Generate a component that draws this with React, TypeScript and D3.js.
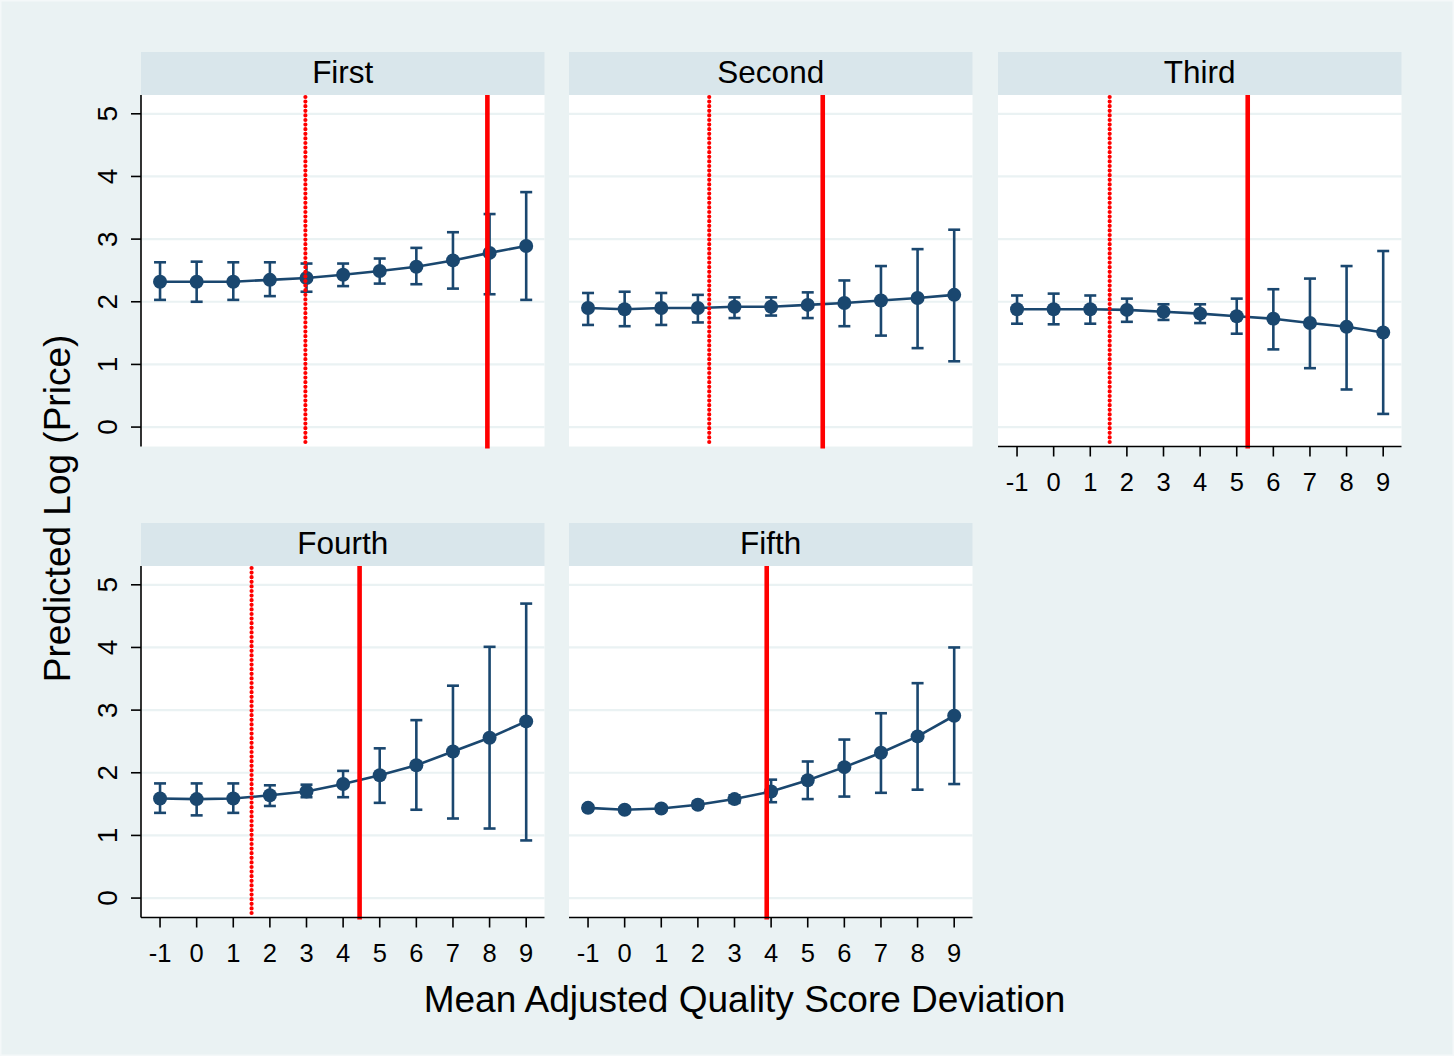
import React from "react";
import * as d3 from "d3";

const xValues = [-1, 0, 1, 2, 3, 4, 5, 6, 7, 8, 9];
const yTicks = [0, 1, 2, 3, 4, 5];
const panelNames = ["First", "Second", "Third", "Fourth", "Fifth"];

const firstEst = [2.32, 2.32, 2.32, 2.35, 2.38, 2.43, 2.49, 2.56, 2.66, 2.78, 2.89];
const firstLo = [2.03, 2.0, 2.03, 2.09, 2.16, 2.25, 2.29, 2.28, 2.21, 2.12, 2.03];
const firstHi = [2.63, 2.64, 2.63, 2.63, 2.61, 2.61, 2.69, 2.86, 3.11, 3.4, 3.75];

const secondEst = [1.9, 1.88, 1.9, 1.9, 1.92, 1.92, 1.95, 1.98, 2.02, 2.06, 2.11];
const secondLo = [1.63, 1.61, 1.63, 1.67, 1.74, 1.78, 1.74, 1.61, 1.46, 1.26, 1.05];
const secondHi = [2.14, 2.16, 2.14, 2.11, 2.07, 2.07, 2.15, 2.34, 2.57, 2.84, 3.15];

const thirdEst = [1.88, 1.88, 1.88, 1.87, 1.84, 1.81, 1.77, 1.73, 1.66, 1.6, 1.51];
const thirdLo = [1.65, 1.64, 1.65, 1.68, 1.71, 1.66, 1.49, 1.24, 0.94, 0.6, 0.21];
const thirdHi = [2.1, 2.13, 2.1, 2.05, 1.96, 1.96, 2.05, 2.2, 2.37, 2.57, 2.81];

const fourthEst = [1.59, 1.58, 1.59, 1.64, 1.7, 1.82, 1.96, 2.12, 2.34, 2.56, 2.82];
const fourthLo = [1.36, 1.32, 1.36, 1.47, 1.61, 1.61, 1.52, 1.41, 1.27, 1.11, 0.92];
const fourthHi = [1.83, 1.83, 1.83, 1.8, 1.81, 2.03, 2.39, 2.84, 3.39, 4.01, 4.7];

const fifthEst = [1.44, 1.41, 1.43, 1.49, 1.58, 1.7, 1.88, 2.09, 2.32, 2.58, 2.91];
const fifthLo = [1.4, 1.37, 1.39, 1.44, 1.52, 1.53, 1.58, 1.62, 1.68, 1.73, 1.82];
const fifthHi = [1.48, 1.45, 1.47, 1.54, 1.64, 1.89, 2.18, 2.53, 2.95, 3.43, 4.0];

const dottedLines = [2.97, 2.31, 1.53, 1.5, null];
const solidLines = [7.94, 5.41, 5.3, 4.45, 3.88];

const estimates = [firstEst, secondEst, thirdEst, fourthEst, fifthEst];
const lows = [firstLo, secondLo, thirdLo, fourthLo, fifthLo];
const highs = [firstHi, secondHi, thirdHi, fourthHi, fifthHi];

const W = 1454;
const H = 1056;
const colX = [141, 569, 998];
const panelW = 403.5;
const stripTops = [52, 523];
const stripH = 43;
const plotH = 351.5;

const BG = "#eaf2f3";
const STRIP = "#d9e6eb";
const NAVY = "#1a476f";
const RED = "#ff0000";
const FONT = "'Liberation Sans', Arial, Helvetica, sans-serif";

type PanelProps = { idx: number };

function Panel({ idx }: PanelProps) {
  const row = idx < 3 ? 0 : 1;
  const col = idx < 3 ? idx : idx - 3;
  const x0 = colX[col];
  const stripTop = stripTops[row];
  const plotTop = stripTop + stripH;
  const plotBottom = plotTop + plotH;

  const x = d3.scaleLinear().domain([-1.52, 9.5]).range([x0, x0 + panelW]);
  const y = d3.scaleLinear().domain([-0.31, 5.3]).range([plotBottom, plotTop]);

  const est = estimates[idx];
  const lo = lows[idx];
  const hi = highs[idx];
  const pts: [number, number][] = xValues.map((v, i) => [v, est[i]]);
  const line = d3
    .line<[number, number]>()
    .x((d) => x(d[0]))
    .y((d) => y(d[1]));

  const showY = col === 0;
  const showX = idx >= 2;

  const dotted = dottedLines[idx];
  const solid = solidLines[idx];

  return (
    <g>
      <rect x={x0} y={stripTop} width={panelW} height={stripH} fill={STRIP} />
      <text
        x={x0 + panelW / 2}
        y={stripTop + 31}
        textAnchor="middle"
        fontFamily={FONT}
        fontSize={31.5}
        fill="#000"
      >
        {panelNames[idx]}
      </text>
      <rect x={x0} y={plotTop} width={panelW} height={plotH} fill="#fff" />
      {yTicks.map((t) => (
        <line
          key={"g" + t}
          x1={x0}
          x2={x0 + panelW}
          y1={y(t)}
          y2={y(t)}
          stroke={BG}
          strokeWidth={2.2}
        />
      ))}
      <path d={line(pts) || ""} fill="none" stroke={NAVY} strokeWidth={2.6} />
      {xValues.map((v, i) => (
        <g key={"e" + v} stroke={NAVY} strokeWidth={2.6}>
          <line x1={x(v)} x2={x(v)} y1={y(lo[i])} y2={y(hi[i])} />
          <line x1={x(v) - 6} x2={x(v) + 6} y1={y(lo[i])} y2={y(lo[i])} />
          <line x1={x(v) - 6} x2={x(v) + 6} y1={y(hi[i])} y2={y(hi[i])} />
        </g>
      ))}
      {xValues.map((v, i) => (
        <circle key={"c" + v} cx={x(v)} cy={y(est[i])} r={7} fill={NAVY} />
      ))}
      {dotted !== null && (
        <line
          x1={x(dotted)}
          x2={x(dotted)}
          y1={plotTop + 2}
          y2={plotBottom - 1}
          stroke={RED}
          strokeWidth={4.2}
          strokeDasharray="0 4.6"
          strokeLinecap="round"
        />
      )}
      <line
        x1={x(solid)}
        x2={x(solid)}
        y1={plotTop}
        y2={plotBottom + 2}
        stroke={RED}
        strokeWidth={4.6}
      />
      {showY && (
        <g>
          <line x1={x0} x2={x0} y1={plotTop} y2={plotBottom} stroke="#000" strokeWidth={1.6} />
          {yTicks.map((t) => (
            <g key={"yt" + t}>
              <line x1={x0 - 10} x2={x0} y1={y(t)} y2={y(t)} stroke="#000" strokeWidth={1.6} />
              <text
                transform={`translate(${x0 - 24},${y(t)}) rotate(-90)`}
                textAnchor="middle"
                fontFamily={FONT}
                fontSize={28}
                fill="#000"
              >
                {t}
              </text>
            </g>
          ))}
        </g>
      )}
      {showX && (
        <g>
          <line x1={x0} x2={x0 + panelW} y1={plotBottom} y2={plotBottom} stroke="#000" strokeWidth={1.6} />
          {xValues.map((v) => (
            <g key={"xt" + v}>
              <line x1={x(v)} x2={x(v)} y1={plotBottom} y2={plotBottom + 10} stroke="#000" strokeWidth={1.6} />
              <text
                x={x(v)}
                y={plotBottom + 44.5}
                textAnchor="middle"
                fontFamily={FONT}
                fontSize={25.5}
                fill="#000"
              >
                {v}
              </text>
            </g>
          ))}
        </g>
      )}
    </g>
  );
}

export default function App() {
  return (
    <div style={{ position: "absolute", left: 0, top: 0 }}>
      <svg width={W} height={H} viewBox={`0 0 ${W} ${H}`} style={{ display: "block" }}>
        <rect x={0} y={0} width={W} height={H} fill="#f4f8f9" />
        <rect x={1.5} y={1.5} width={W - 3} height={H - 3} fill={BG} />
        {panelNames.map((_, i) => (
          <Panel key={i} idx={i} />
        ))}
        <text
          transform={`translate(70,508.5) rotate(-90)`}
          textAnchor="middle"
          fontFamily={FONT}
          fontSize={37}
          fill="#000"
        >
          Predicted Log (Price)
        </text>
        <text
          x={744.5}
          y={1012}
          textAnchor="middle"
          fontFamily={FONT}
          fontSize={37}
          fill="#000"
        >
          Mean Adjusted Quality Score Deviation
        </text>
      </svg>
    </div>
  );
}
